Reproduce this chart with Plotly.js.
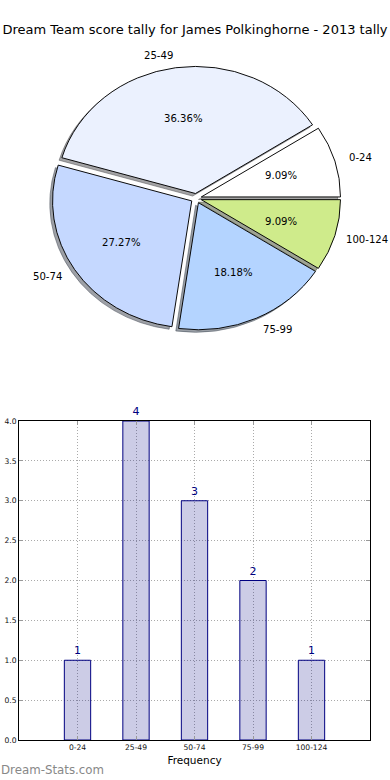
<!DOCTYPE html>
<html><head><meta charset="utf-8">
<script src="https://cdn.plot.ly/plotly-3.0.1.min.js"></script>
<style>html,body{margin:0;padding:0;background:#fff}#chart{width:390px;height:780px}</style>
</head><body><div id="chart"></div>
<script>
// ---- data ----
const categories = ['0-24', '25-49', '50-74', '75-99', '100-124'];
const counts = [1, 4, 3, 2, 1];
const sliceColors = ['#FFFFFF', '#EBF1FE', '#C5D8FF', '#B4D4FF', '#CFEB8B'];
const yTickValues = [0, 0.5, 1, 1.5, 2, 2.5, 3, 3.5, 4];
const chartTitle = 'Dream Team score tally for James Polkinghorne - 2013 tally';
const xTitle = 'Frequency';
const watermark = 'Dream-Stats.com';

// ---- layout helpers ----
const W = 390, H = 780;
const FONT = 'DejaVu Sans';
const PIE_FONT = 10.1;
const pieCx = 196.2, pieCy = 198.3, pieR = 139.2, pieK = 0.913, pull = 0.038;
const half = pieR * (1 + pull);
const shadowOff = 0.02 * pieR;
function dom(cx, cy) {
  return {x: [(cx - half) / W, (cx + half) / W], y: [1 - (cy + half) / H, 1 - (cy - half) / H]};
}
const total = counts.reduce((a, b) => a + b, 0);
const rotation = 90 - 360 * counts[0] / total;
const shadowColors = sliceColors.map(c => {
  const r = parseInt(c.slice(1, 3), 16), g = parseInt(c.slice(3, 5), 16), b = parseInt(c.slice(5, 7), 16);
  return 'rgba(' + Math.round(r * 0.3) + ',' + Math.round(g * 0.3) + ',' + Math.round(b * 0.3) + ',0.5)';
});

const shadowPie = {
  type: 'pie', labels: categories, values: counts, sort: false, direction: 'counterclockwise',
  rotation: rotation, pull: pull, domain: dom(pieCx - shadowOff, pieCy + shadowOff),
  marker: {colors: shadowColors, line: {color: shadowColors, width: 1}},
  textinfo: 'none', hoverinfo: 'skip', showlegend: false
};
const pie = {
  type: 'pie', labels: categories, values: counts, sort: false, direction: 'counterclockwise',
  rotation: rotation, pull: pull, domain: dom(pieCx, pieCy),
  marker: {colors: sliceColors, line: {color: '#000000', width: 1}},
  textinfo: 'none', hoverinfo: 'skip', showlegend: false
};
const bars = {
  type: 'bar', x: categories, y: counts, width: 0.45,
  marker: {color: 'rgba(0,0,128,0.2)', line: {color: '#000080', width: 1}},
  text: counts.map(String), textposition: 'outside', cliponaxis: false,
  textfont: {family: FONT, size: 11, color: '#000080'},
  hoverinfo: 'skip', showlegend: false
};

// approximate DejaVu Sans advance widths (em) for label fitting
function textWidth(t, size) {
  let w = 0;
  for (const ch of t) w += (ch === '-' ? 0.361 : ch === '.' ? 0.318 : ch === '%' ? 0.95 : 0.636);
  return w * size;
}

const annotations = [];
let cum = 0;
const ry = pieR * pieK;
counts.forEach((v, i) => {
  const th = (cum + v / 2) / total * 2 * Math.PI; cum += v;
  const c = Math.cos(th), s = Math.sin(th);
  const sx = pieCx + pull * pieR * c, sy = pieCy - pull * ry * s;
  let lx = sx + 1.1 * pieR * c;
  let anchor = c > 0 ? 'left' : 'right';
  if (anchor === 'left' && lx + textWidth(categories[i], PIE_FONT) > W - 1) {
    lx = W - 1; anchor = 'right';
  }
  annotations.push({
    text: categories[i], xref: 'paper', yref: 'paper',
    x: lx / W, y: 1 - (sy - 1.1 * ry * s) / H,
    xanchor: anchor, yanchor: 'middle', showarrow: false, borderpad: 0,
    font: {family: FONT, size: PIE_FONT, color: '#000'}
  });
  annotations.push({
    text: (100 * v / total).toFixed(2) + '%', xref: 'paper', yref: 'paper',
    x: (sx + 0.6 * pieR * c) / W, y: 1 - (sy - 0.6 * ry * s) / H,
    xanchor: 'center', yanchor: 'middle', showarrow: false, borderpad: 0,
    font: {family: FONT, size: PIE_FONT, color: '#000'}
  });
});
annotations.push({
  text: watermark, xref: 'paper', yref: 'paper', x: 0, y: 1 - 770 / H,
  xanchor: 'left', yanchor: 'middle', showarrow: false, borderpad: 0,
  font: {family: FONT, size: 11.8, color: '#888888'}
});

const axisCommon = {
  showline: true, linecolor: '#000', linewidth: 1, mirror: 'ticks',
  ticks: 'inside', ticklen: 4, tickcolor: '#999', tickwidth: 1,
  showgrid: true, gridcolor: '#aaaaaa', griddash: '1px,2px', gridwidth: 1,
  zeroline: false, tickfont: {family: FONT, size: 7.6, color: '#111'}, fixedrange: true
};
const layout = {
  width: W, height: H, margin: {l: 0, r: 0, t: 0, b: 0},
  paper_bgcolor: '#fff', plot_bgcolor: '#fff', showlegend: false,
  title: {text: chartTitle, x: 0.5, xanchor: 'center', y: 1 - 29.5 / H, yanchor: 'middle', yref: 'container',
          font: {family: FONT, size: 13, color: '#000'}},
  xaxis: Object.assign({}, axisCommon, {
    domain: [19 / W, 370 / W], type: 'category', range: [-1, 5],
    title: {text: xTitle, standoff: 5, font: {family: FONT, size: 10.5, color: '#000'}}
  }),
  yaxis: Object.assign({}, axisCommon, {
    domain: [1 - 740 / H, 1 - 421 / H], range: [0, 4], tickvals: yTickValues, tickformat: '.1f'
  }),
  annotations: annotations
};

Plotly.newPlot('chart', [shadowPie, pie, bars], layout, {staticPlot: true, displayModeBar: false}).then(gd => {
  const pl = gd.querySelector('.pielayer');
  if (pl) pl.setAttribute('transform', 'translate(0,' + pieCy + ') scale(1,' + pieK + ') translate(0,' + (-pieCy) + ')');
});
</script>
</body></html>
